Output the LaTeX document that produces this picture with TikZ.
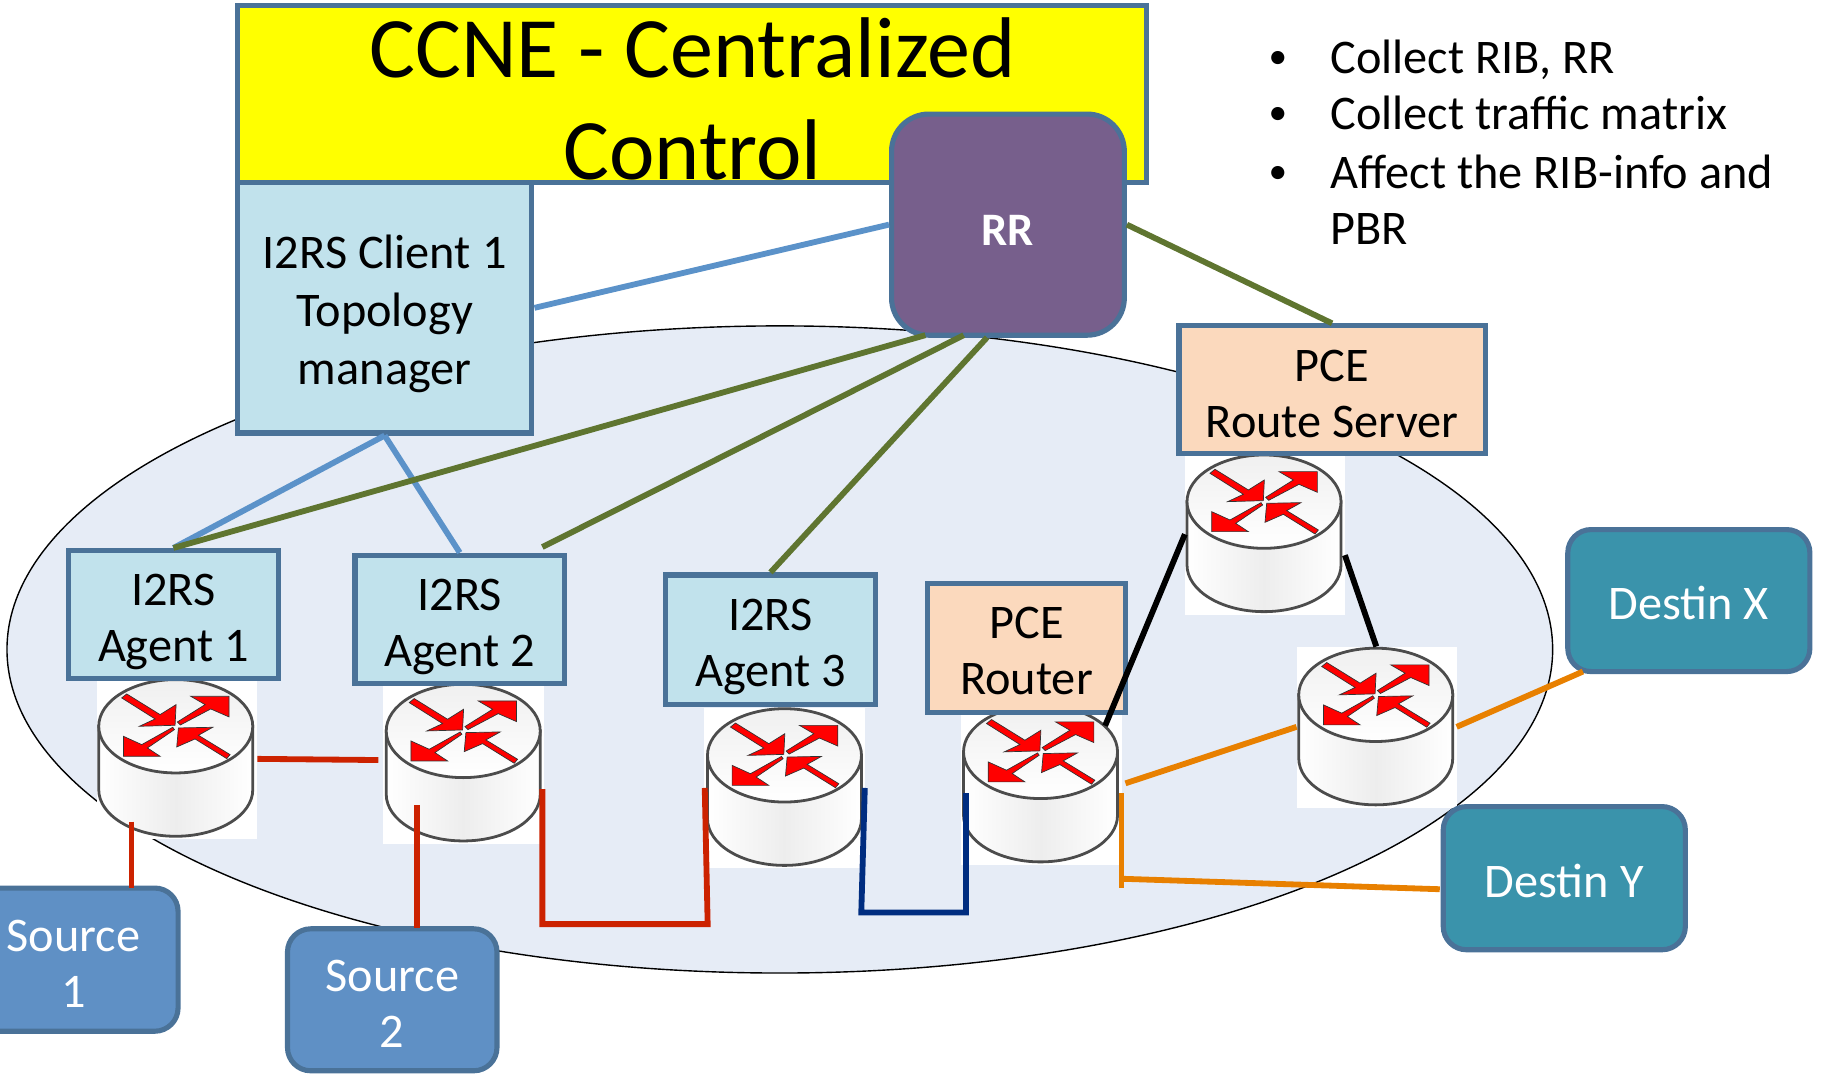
\documentclass[tikz,border=0pt]{standalone}
\usepackage{fontspec}
\usetikzlibrary{shapes.geometric}
\setmainfont{Carlito}
\definecolor{edgeblue}{HTML}{4A7298}
\definecolor{titlefill}{HTML}{FFFF00}
\definecolor{clientfill}{HTML}{C1E2EC}
\definecolor{pcefill}{HTML}{FBD9BD}
\definecolor{destfill}{HTML}{3A93AB}
\definecolor{srcfill}{HTML}{5F90C5}
\definecolor{rrfill}{HTML}{775F8C}
\definecolor{cloudfill}{HTML}{E6ECF6}
\definecolor{linkblue}{HTML}{5B92C9}
\definecolor{linkgreen}{HTML}{5F7530}
\definecolor{linkred}{HTML}{CC2200}
\definecolor{linknavy}{HTML}{002D80}
\definecolor{linkorange}{HTML}{E88000}
\newcommand{\lift}[1]{\rule{0pt}{#1pt}}
\tikzset{
  box/.style={draw=edgeblue, line width=4.4pt, inner sep=0pt, align=center,
    font=\fontsize{41.5}{48.5}\selectfont},
  clientbox/.style={box, fill=clientfill},
  pcebox/.style={box, fill=pcefill},
  destbox/.style={box, fill=destfill, text=white, rounded corners=20pt},
  srcbox/.style={box, fill=srcfill, text=white, rounded corners=20pt},
  routerbg/.style={fill=white, minimum width=138pt, minimum height=138pt, inner sep=0pt},
  bullettext/.style={anchor=base west, inner sep=0pt, font=\fontsize{41.5}{48}\selectfont},
  bulletdot/.style={anchor=base, inner sep=0pt, font=\fontsize{32}{40}\selectfont},
  link/.style={line width=5pt},
  router/.pic={
    \begin{scope}[x=.2864pt, y=-.2864pt]
      \draw[draw=black!70, line width=2.4pt, left color=white, right color=white, middle color=black!7]
        (-231,0) -- (-231,190) arc[start angle=180, end angle=0, x radius=231, y radius=140] -- (231,0) -- cycle;
      \draw[draw=black!70, line width=2.4pt, top color=black!6, bottom color=white]
        (0,0) ellipse[x radius=231, y radius=140];
      \fill[red, draw=black!80, line width=.6pt]
        (-162,-85) -- (-147,-97) -- (-47,-35) -- (1,-65) -- (-2,-3) -- (-109,0) -- (-62,-22) -- cycle;
      \fill[red, draw=black!80, line width=.6pt]
        (5,-13) -- (88,-65) -- (45,-90) -- (160,-90) -- (160,-28) -- (105,-52) -- (14,-4) -- cycle;
      \fill[red, draw=black!80, line width=.6pt]
        (-9,3) -- (-102,55) -- (-157,30) -- (-157,90) -- (-47,90) -- (-85,65) -- (-4,10) -- cycle;
      \fill[red, draw=black!80, line width=.6pt]
        (163,85) -- (153,97) -- (58,38) -- (3,62) -- (8,5) -- (111,3) -- (68,27) -- cycle;
    \end{scope}
  }
}
\begin{document}
\begin{tikzpicture}[x=1pt, y=-1pt]
  \useasboundingbox (0,0) rectangle (1568,923);

  % Cloud
  \node[draw=black, line width=1.2pt, fill=cloudfill, ellipse, minimum width=1328pt, minimum height=556pt, inner sep=0pt] (cloud) at (670,558) {};

  % Routers
  \node[routerbg] (r1) at (152,652) {};
  \node[routerbg] (r2) at (398,656) {};
  \node[routerbg] (r3) at (674,677) {};
  \node[routerbg] (r4) at (895,674) {};
  \node[routerbg] (r5) at (1087,459) {};
  \node[routerbg] (r6) at (1183,625) {};
  \pic at (151,624) {router};
  \pic at (398,628) {router};
  \pic at (674,649) {router};
  \pic at (894,646) {router};
  \pic at (1086,431) {router};
  \pic at (1182,597) {router};

  % Title and controller
  \node[box, fill=titlefill, minimum width=781pt, minimum height=152pt] (title) at (594.5,81) {};
  \node[inner sep=0pt, align=center, font=\fontsize{74}{87}\selectfont] (titletext) at (595,85) {CCNE - Centralized\\Control};
  \node[clientbox, minimum width=253pt, minimum height=215pt, font=\fontsize{41.5}{49.5}\selectfont] (client) at (330.5,264.5) {\lift{39}I2RS Client 1\\Topology\\manager};
  \node[box, fill=rrfill, text=white, rounded corners=32pt, minimum width=200pt, minimum height=190pt, font=\fontsize{40}{44}\selectfont\bfseries] (rr) at (866,193) {\lift{35}RR};

  % Bullets
  \node[bulletdot] (b1) at (1098,59) {•};
  \node[bulletdot] (b2) at (1098,107) {•};
  \node[bulletdot] (b3) at (1098,158) {•};
  \node[bullettext] (t1) at (1143,63) {Collect RIB, RR};
  \node[bullettext] (t2) at (1143,111) {Collect traffic matrix};
  \node[bullettext] (t3) at (1143,162) {Affect the RIB-info and};
  \node[bullettext] (t4) at (1143,210) {PBR};

  % Agents and PCE
  \node[clientbox, minimum width=180pt, minimum height=110pt] (agent1) at (149,528) {\lift{40}I2RS\\Agent 1};
  \node[clientbox, minimum width=180pt, minimum height=110pt] (agent2) at (395,532) {\lift{40}I2RS\\Agent 2};
  \node[clientbox, minimum width=180pt, minimum height=111pt] (agent3) at (662,549.5) {\lift{40}I2RS\\Agent 3};
  \node[pcebox, minimum width=170pt, minimum height=111pt] (pcerouter) at (882,556.5) {\lift{33}PCE\\Router};
  \node[pcebox, minimum width=263pt, minimum height=110pt] (pceserver) at (1144.5,335) {\lift{34}PCE\\Route Server};

  % Sources and destinations
  \node[srcbox, minimum width=173pt, minimum height=123pt] (src1) at (66.5,824.5) {\hspace*{-7pt}\lift{34}Source\\\hspace*{-7pt}1};
  \node[srcbox, minimum width=180pt, minimum height=122pt] (src2) at (337,859) {\lift{34}Source\\2};
  \node[destbox, minimum width=208pt, minimum height=122pt] (destx) at (1451,516) {\lift{33}Destin X};
  \node[destbox, minimum width=208pt, minimum height=123pt] (desty) at (1344,754.5) {\lift{34}Destin Y};

  % Free ends
  \coordinate (rrA) at (795,288);
  \coordinate (rrB) at (828,288);
  \coordinate (rrC) at (848,290);
  \coordinate (agent2top) at (466,470);
  \coordinate (r2left) at (325,653);
  \coordinate (r1foot) at (113,706);
  \coordinate (src1top) at (113,763);
  \coordinate (r2foot) at (358,692);
  \coordinate (src2top) at (358,797);
  \coordinate (r2out) at (466,678);
  \coordinate (r3in) at (605.5,677);
  \coordinate (r3out) at (743,677);
  \coordinate (r4in) at (830,681.5);
  \coordinate (r4top) at (949.5,623.5);
  \coordinate (r5left) at (1018,459);
  \coordinate (r5right) at (1155.5,477);
  \coordinate (r6top) at (1182.5,555.5);
  \coordinate (r4right) at (967,673);
  \coordinate (r6left) at (1114,624.5);
  \coordinate (r6right) at (1251.5,624.5);
  \coordinate (destxfoot) at (1360,577);
  \coordinate (r4foot) at (963.5,681.5);
  \coordinate (r4end) at (963.5,763);
  \coordinate (r4mid) at (963.5,755);
  \coordinate (destyleft) at (1237,764);

  % Links
  \draw[link, linkblue] (client.east) -- (rr.west);
  \draw[link, linkblue] (client.south) -- (agent1.north);
  \draw[link, linkblue] (client.south) -- (agent2.north);
  \draw[link, linkgreen] (rr.east) -- (pceserver.north);
  \draw[link, linkgreen] (rrA) -- (agent1.north);
  \draw[link, linkgreen] (rrB) -- (agent2top);
  \draw[link, linkgreen] (rrC) -- (agent3.north);
  \draw[link, linkred] (r1.east) -- (r2left);
  \draw[link, linkred] (r1foot) -- (src1top);
  \draw[link, linkred] (r2foot) -- (src2top);
  \draw[link, linkred] (r2out) -- (466,794) -- (608,794) -- (r3in);
  \draw[link, linknavy] (r3out) -- (740,784) -- (830,784) -- (r4in);
  \draw[link, black] (r4top) -- (r5left);
  \draw[link, black] (r5right) -- (r6top);
  \draw[link, linkorange] (r4right) -- (r6left);
  \draw[link, linkorange] (r6right) -- (destxfoot);
  \draw[link, linkorange] (r4foot) -- (r4end);
  \draw[link, linkorange] (r4mid) -- (destyleft);

\end{tikzpicture}
\end{document}
